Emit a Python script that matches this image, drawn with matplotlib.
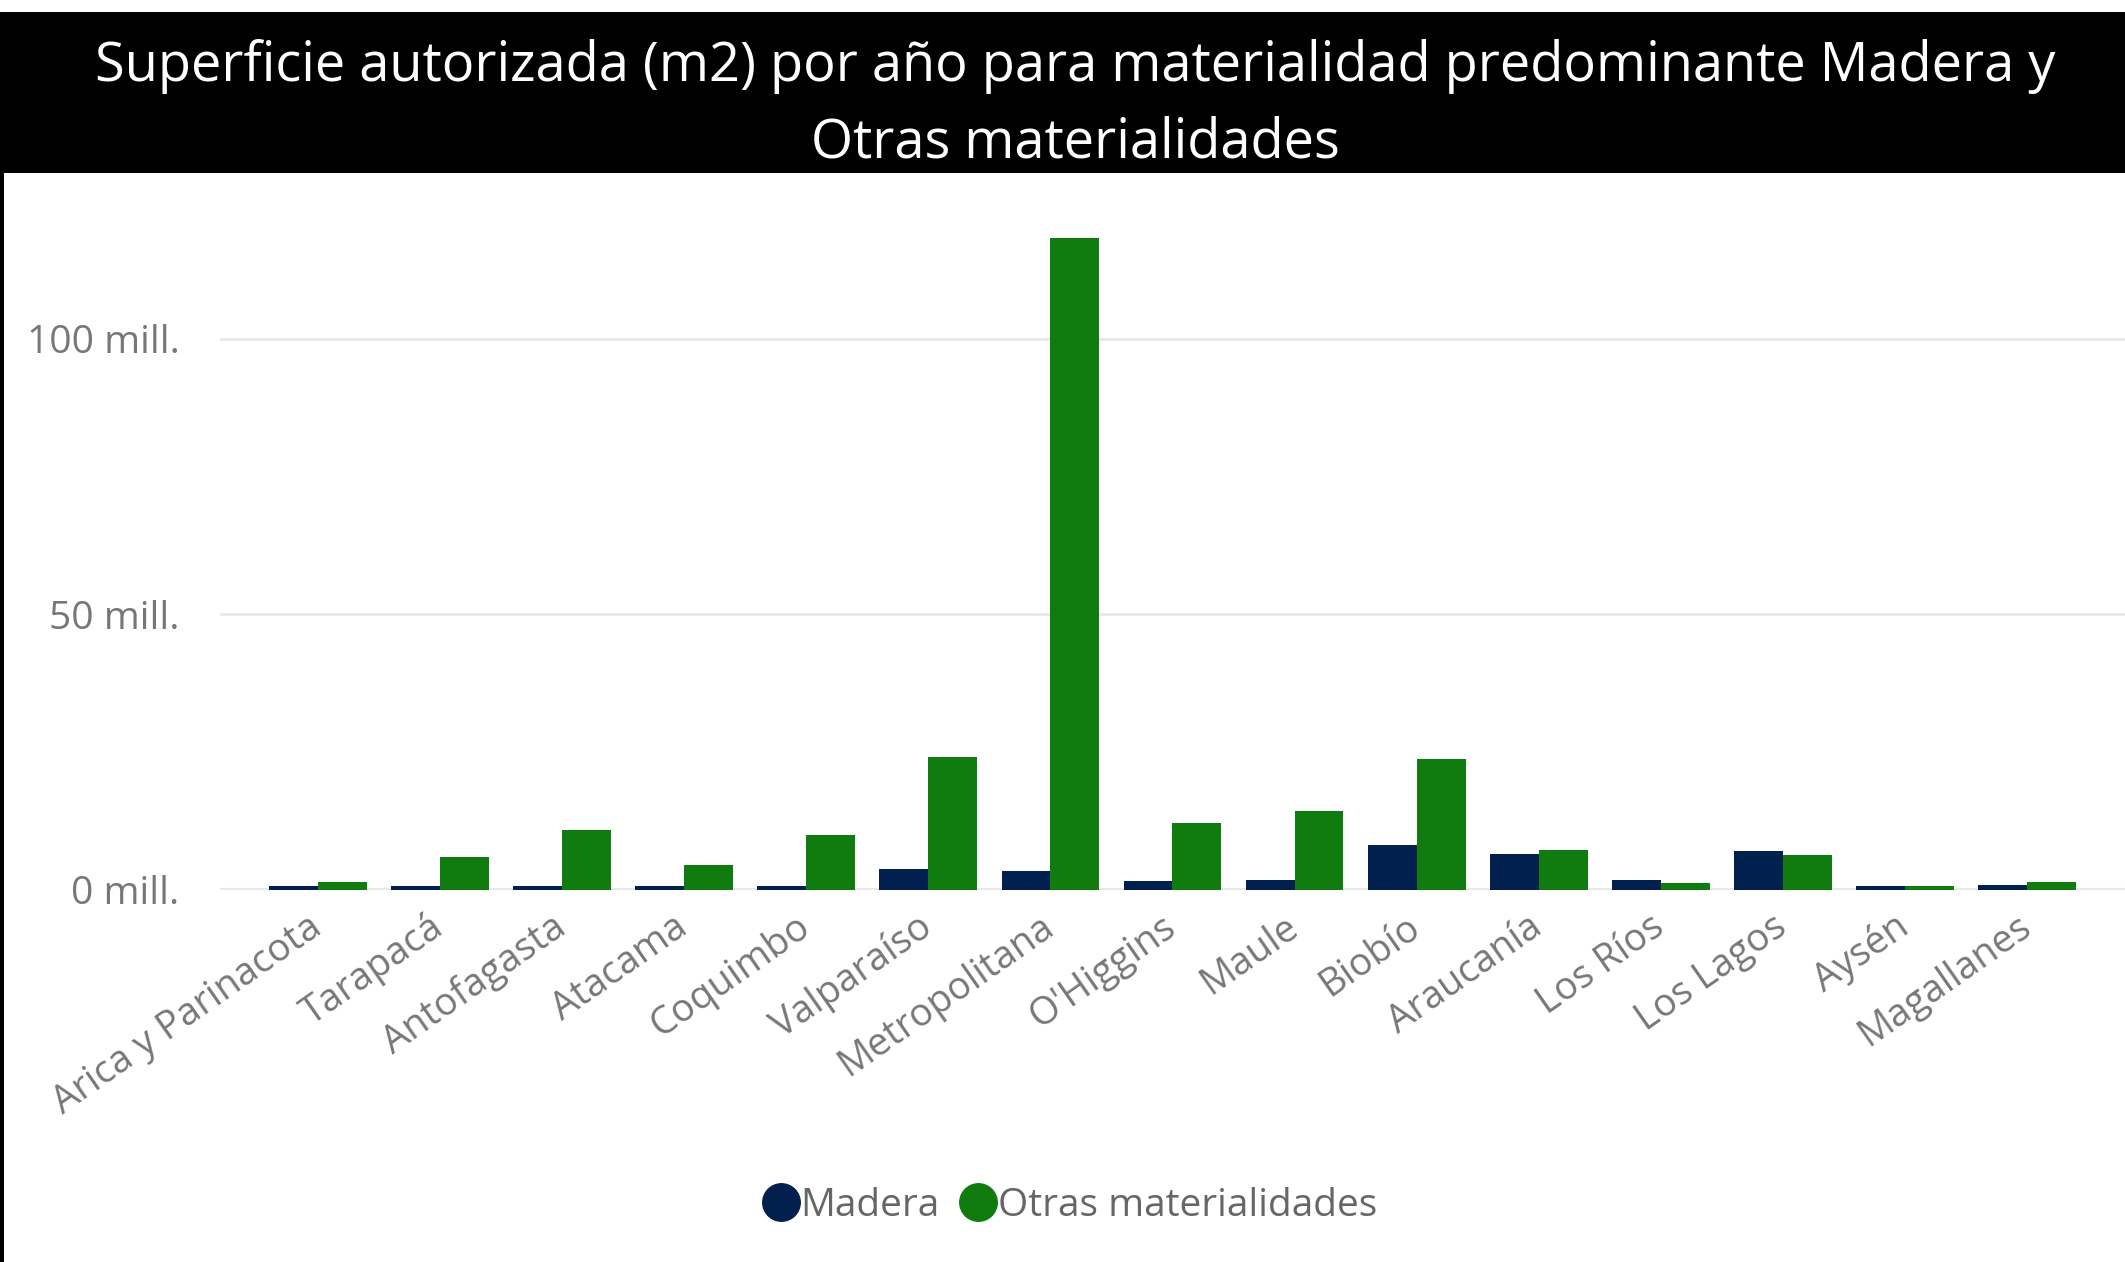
import numpy as np
import matplotlib
matplotlib.use('Agg')
import matplotlib.pyplot as plt
from matplotlib.patches import Rectangle
from matplotlib.lines import Line2D

plt.rcParams['font.family'] = ['Open Sans', 'DejaVu Sans']

regiones = ['Arica y Parinacota', 'Tarapacá', 'Antofagasta', 'Atacama', 'Coquimbo',
            'Valparaíso', 'Metropolitana', "O'Higgins", 'Maule', 'Biobío',
            'Araucanía', 'Los Ríos', 'Los Lagos', 'Aysén', 'Magallanes']
# millones de m2
madera = [0.7, 0.7, 0.7, 0.7, 0.7, 3.8, 3.4, 1.6, 1.8, 8.1, 6.5, 1.9, 7.0, 0.7, 0.9]
otras = [1.4, 5.9, 10.8, 4.5, 9.9, 24.1, 118.3, 12.1, 14.3, 23.8, 7.2, 1.2, 6.3, 0.7, 1.4]
y_ticks = [0, 50, 100]

c_madera = '#01204E'
c_otras = '#107C10'
gris = '#777777'

W, H = 2125, 1262
fig = plt.figure(figsize=(W / 100, H / 100), dpi=100)

# banda negra del titulo y borde izquierdo
fig.patches.append(Rectangle((0, 1 - 173 / H), 1, (173 - 12) / H, transform=fig.transFigure,
                             facecolor='black', edgecolor='none', zorder=0))
fig.patches.append(Rectangle((0, 0), 4 / W, 1 - 12 / H, transform=fig.transFigure,
                             facecolor='black', edgecolor='none', zorder=0))
fig.text(1075 / W, 1 - 66 / H,
         'Superficie autorizada (m2) por año para materialidad predominante Madera y',
         color='white', fontsize=39, ha='center', va='center')
fig.text(1075 / W, 1 - 143 / H, 'Otras materialidades',
         color='white', fontsize=39, ha='center', va='center')

ax = fig.add_axes([220 / W, 1 - 890 / H, 1 - 220 / W, (890 - 201) / H])
x = np.arange(len(regiones))
w = 0.4
ax.bar(x - w / 2, madera, width=w, color=c_madera, zorder=3)
ax.bar(x + w / 2, otras, width=w, color=c_otras, zorder=3)

ax.set_xlim(-0.8, len(regiones) - 0.2)
ax.set_ylim(0, 125)
ax.set_yticks(y_ticks)
ax.set_yticklabels([f'{v} mill.' for v in y_ticks])
for v in y_ticks:
    ax.axhline(v, color='#E8E8E8', lw=3 if v == 0 else 2, zorder=1)

ax.set_xticks(x)
ax.set_xticklabels(regiones, rotation=35, ha='right', va='center', rotation_mode='anchor')
for s in ax.spines.values():
    s.set_visible(False)
ax.tick_params(axis='y', length=0, pad=29, labelsize=28, labelcolor=gris)
ax.tick_params(axis='x', length=0, pad=24, labelsize=27.5, labelcolor=gris)

handles = [Line2D([], [], marker='o', ls='none', markersize=27, color=c_madera),
           Line2D([], [], marker='o', ls='none', markersize=27, color=c_otras)]
fig.legend(handles, ['Madera', 'Otras materialidades'], loc='center',
           bbox_to_anchor=(1067 / W, 1 - 1206 / H), ncol=2, frameon=False,
           fontsize=28, labelcolor='#666666', handletextpad=-0.1, columnspacing=0.4,
           handlelength=1.2)

fig.savefig('out.png', dpi=100)
